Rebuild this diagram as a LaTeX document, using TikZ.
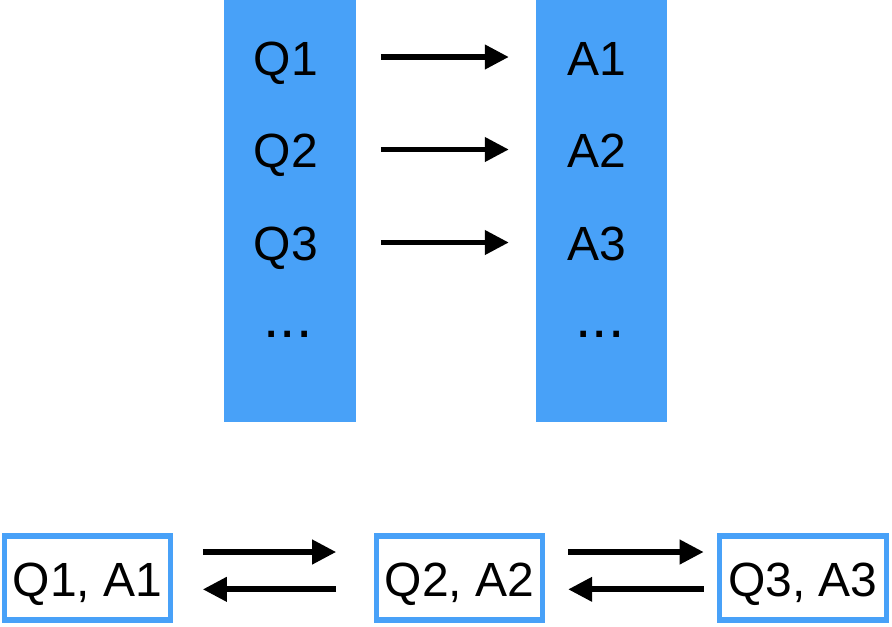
\documentclass[tikz,border=0pt]{standalone}
\usepackage{fontspec}
\setmainfont{Liberation Sans}
\usetikzlibrary{arrows.meta}
\definecolor{colblue}{RGB}{72,161,248}
\tikzset
    { column/.style =
        { fill = colblue
        , draw = none
        , minimum width = 98.5pt
        , minimum height = 316.5pt
        }
    , pair/.style =
        { draw = colblue
        , line width = 3.9pt
        , minimum width = 125pt
        , minimum height = 63pt
        , inner sep = 0pt
        , text height = 27pt
        , text depth = 0pt
        , font = \fontsize{36}{40}\selectfont
        }
    , label/.style =
        { anchor = base
        , inner sep = 0pt
        , font = \fontsize{36}{40}\selectfont
        }
    , link/.style =
        { line width = 4.3pt
        , -{Triangle[length=18pt, width=17.5pt]}
        }
    }

\begin{document}
\begin{tikzpicture}[x=0.75pt, y=-0.75pt]

            \useasboundingbox (0, 0) rectangle (892, 626);

            \node[column] (qcol) at (290, 211) {};
            \node[column] (acol) at (601.5, 211) {};

            \foreach \i/\y in {1/75, 2/167.5, 3/260.5}
                {
                \node[label] (q\i) at (286, \y) {Q\i};
                \node[label] (a\i) at (597, \y) {A\i};
                \draw[link, shorten <=18.75pt, shorten >=20pt]
                    ([yshift=13.5pt]qcol.east |- q\i.base) -- ([yshift=13.5pt]acol.west |- q\i.base);
                }
            \node[label, font=\fontsize{44}{48}\selectfont] (qdots) at (288, 337) {...};
            \node[label, font=\fontsize{44}{48}\selectfont] (adots) at (600, 337) {...};

            \node[pair] (qa1) at (87.5, 578) {Q1, A1};
            \node[pair] (qa2) at (459.5, 578) {Q2, A2};
            \node[pair] (qa3) at (803, 578) {Q3, A3};

            \draw[link, shorten <=22pt, shorten >=28pt] ([yshift=19.5pt]qa1.east) -- ([yshift=19.5pt]qa2.west);
            \draw[link, shorten <=28pt, shorten >=22pt] ([yshift=-8.5pt]qa2.west) -- ([yshift=-8.5pt]qa1.east);
            \draw[link, shorten <=17pt, shorten >=10pt] ([yshift=19.5pt]qa2.east) -- ([yshift=19.5pt]qa3.west);
            \draw[link, shorten <=10pt, shorten >=17pt] ([yshift=-8.5pt]qa3.west) -- ([yshift=-8.5pt]qa2.east);

        \end{tikzpicture}
\end{document}
